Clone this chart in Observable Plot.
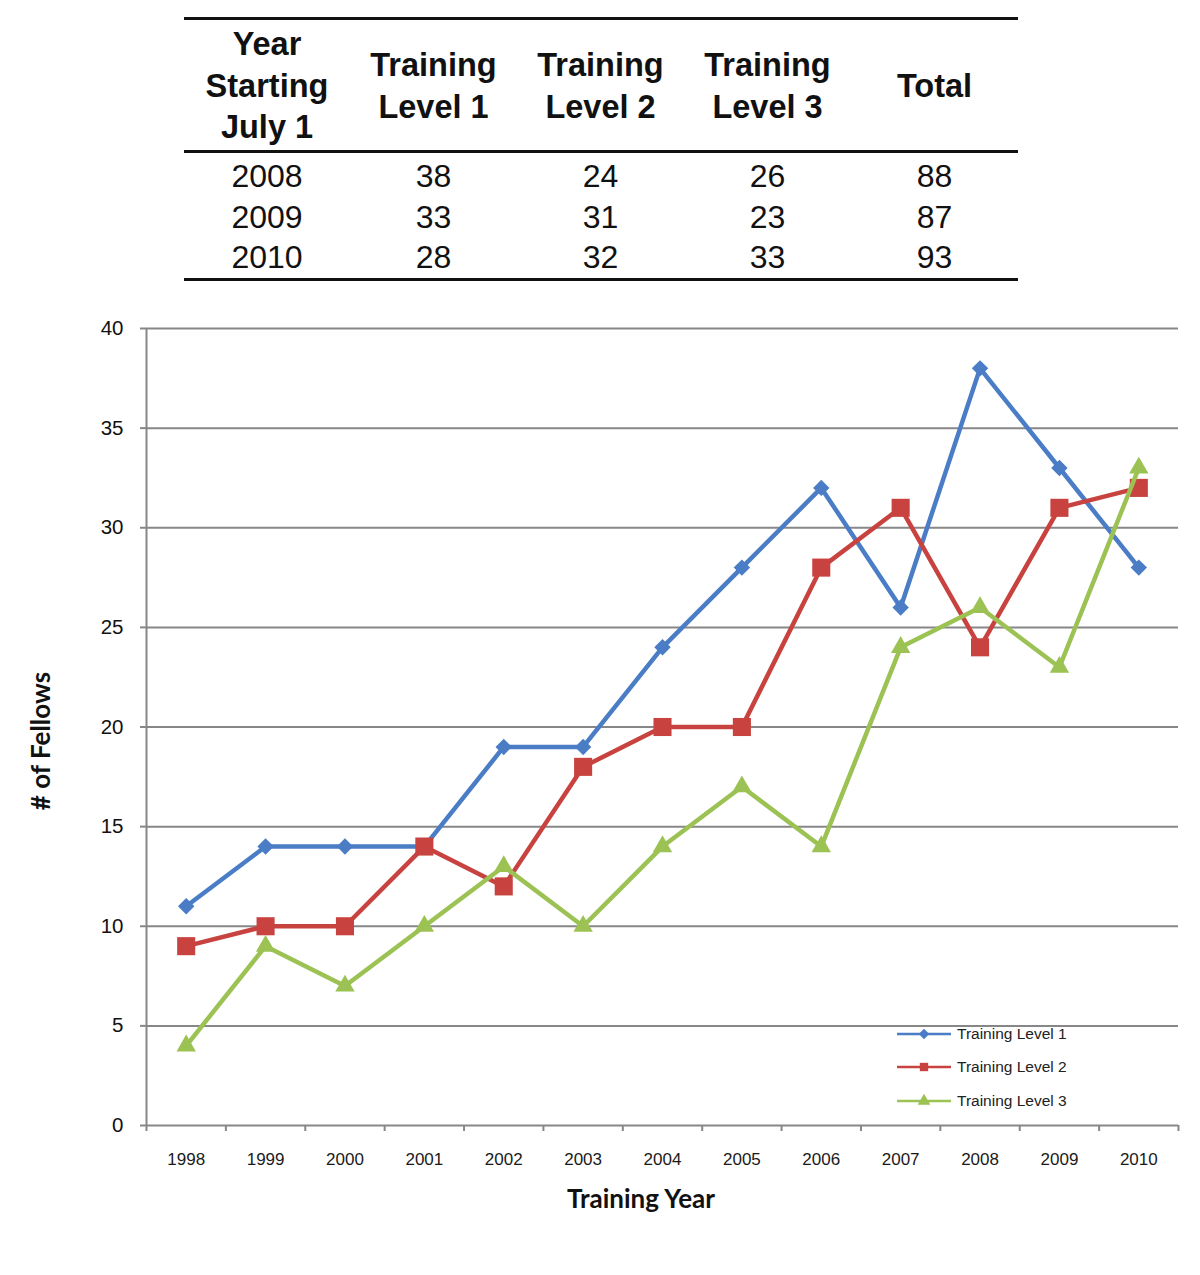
<!DOCTYPE html>
<html>
<head>
<meta charset="utf-8">
<script src="https://cdn.jsdelivr.net/npm/d3@7"></script>
<script src="https://cdn.jsdelivr.net/npm/@observablehq/plot@0.6"></script>
<style>
  html, body { margin: 0; padding: 0; background: #fff; }
  #page { position: relative; width: 1200px; height: 1275px; overflow: hidden; font-family: "Liberation Sans", Arial, sans-serif; }
  #tbl { position: absolute; left: 184px; top: 17px; width: 834px; border-collapse: collapse; color: #111; }
  #tbl th { font-weight: bold; font-size: 32.5px; line-height: 41.5px; height: 127px; padding: 3px 0 0 0; text-align: center; vertical-align: middle; border-top: 3px solid #111; border-bottom: 3px solid #111; }
  #tbl td { font-size: 32px; line-height: 40.5px; padding: 0; text-align: center; }
  #tbl tbody tr:first-child td { padding-top: 3px; }
  #tbl tbody tr:last-child td { border-bottom: 3px solid #111; padding-bottom: 0px; }
  #chart { position: absolute; left: 0; top: 290px; }
  .axtitle { position: absolute; font-family: Lato, "Open Sans", sans-serif; font-weight: bold; font-size: 26px; color: #111; white-space: nowrap; }
  #legend { position: absolute; left: 895px; top: 1017px; font-family: "Liberation Sans", Arial, sans-serif; font-size: 15.5px; color: #222; }
  #legend .row { display: flex; align-items: center; height: 33.5px; }
  #legend svg { margin-right: 4px; }
</style>
</head>
<body>
<div id="page">
  <table id="tbl"></table>
  <div id="chart"></div>
  <div class="axtitle" id="ytitle"># of Fellows</div>
  <div class="axtitle" id="xtitle">Training Year</div>
  <div id="legend"></div>
</div>
<script>
// ---- Data ----
const years = [1998, 1999, 2000, 2001, 2002, 2003, 2004, 2005, 2006, 2007, 2008, 2009, 2010];
const level1 = [11, 14, 14, 14, 19, 19, 24, 28, 32, 26, 38, 33, 28];
const level2 = [9, 10, 10, 14, 12, 18, 20, 20, 28, 31, 24, 31, 32];
const level3 = [4, 9, 7, 10, 13, 10, 14, 17, 14, 24, 26, 23, 33];
const seriesNames = ["Training Level 1", "Training Level 2", "Training Level 3"];
const yTicks = [0, 5, 10, 15, 20, 25, 30, 35, 40];

// Table data
const tableHeaders = ["Year<br>Starting<br>July 1", "Training<br>Level 1", "Training<br>Level 2", "Training<br>Level 3", "Total"];
const tableYears = [2008, 2009, 2010];
const tableL1 = [38, 33, 28];
const tableL2 = [24, 31, 32];
const tableL3 = [26, 23, 33];
const tableTotal = [88, 87, 93];

// ---- Styles ----
const seriesColors = ["#4a7dc6", "#c8433f", "#9bc253"];
const seriesSymbols = ["diamond2", "square", "triangle"];
const seriesR = [7.4, 10.2, 7.2];
const gridColor = "#878787";

// ---- Table ----
const tbl = document.getElementById("tbl");
let html = "<thead><tr>" + tableHeaders.map(h => `<th>${h}</th>`).join("") + "</tr></thead><tbody>";
tableYears.forEach((y, i) => {
  html += `<tr><td>${y}</td><td>${tableL1[i]}</td><td>${tableL2[i]}</td><td>${tableL3[i]}</td><td>${tableTotal[i]}</td></tr>`;
});
html += "</tbody>";
tbl.innerHTML = html;
tbl.querySelectorAll("th").forEach((th, i) => { th.style.width = (i === 0 ? 166 : 167) + "px"; });

// ---- Chart ----
const seriesValues = [level1, level2, level3];
const series = seriesNames.map((name, s) => years.map((yr, i) => ({ year: yr, value: seriesValues[s][i], series: name })));
const x0 = years[0] - 0.5, x1 = years[years.length - 1] + 0.5;
const boundaries = d3.range(x0, x1 + 0.01, 1);

const marks = [
  Plot.gridY(yTicks.slice(1), { stroke: gridColor, strokeOpacity: 1, strokeWidth: 2 }),
  Plot.axisY(yTicks, { tickSize: 6, tickPadding: 17, fontSize: 20.5, stroke: gridColor, strokeWidth: 2, fill: "#111", label: null }),
  Plot.axisX(years, { tickSize: 0, tickPadding: 27, fontSize: 17, fill: "#1a1a1a", tickFormat: d => String(d), label: null }),
  Plot.axisX(boundaries, { tickSize: 6, stroke: gridColor, strokeWidth: 2, tickFormat: () => "", label: null }),
  Plot.ruleY([0], { stroke: gridColor, strokeWidth: 2 }),
  Plot.ruleX([x0], { stroke: gridColor, strokeWidth: 2 })
];
series.forEach((data, s) => {
  marks.push(Plot.line(data, { x: "year", y: "value", stroke: seriesColors[s], strokeWidth: 4.5 }));
  marks.push(Plot.dot(data, { x: "year", y: "value", symbol: seriesSymbols[s], r: seriesR[s], fill: seriesColors[s], stroke: "none" }));
});

const chart = Plot.plot({
  width: 1200,
  height: 960,
  marginTop: 38,
  marginLeft: 146,
  marginRight: 22,
  marginBottom: 125,
  x: { type: "linear", domain: [x0, x1] },
  y: { domain: [0, 40] },
  style: { fontFamily: "'Liberation Sans', Arial, sans-serif", background: "#fff", overflow: "visible" },
  marks
});
document.getElementById("chart").appendChild(chart);

// ---- Axis titles ----
const yt = document.getElementById("ytitle");
yt.style.left = "40px"; yt.style.top = "741px";
yt.style.transform = "translate(-50%, -50%) rotate(-90deg)";
const xt = document.getElementById("xtitle");
xt.style.left = "641px"; xt.style.top = "1198px";
xt.style.transform = "translate(-50%, -50%)";

// ---- Legend ----
const legend = d3.select("#legend");
seriesNames.forEach((name, s) => {
  const row = legend.append("div").attr("class", "row");
  const svg = row.append("svg").attr("width", 58).attr("height", 20);
  svg.append("line").attr("x1", 2).attr("x2", 56).attr("y1", 10).attr("y2", 10).attr("stroke", seriesColors[s]).attr("stroke-width", 2.5);
  const sym = { diamond2: d3.symbolDiamond2, square: d3.symbolSquare, triangle: d3.symbolTriangle }[seriesSymbols[s]];
  svg.append("path").attr("d", d3.symbol(sym, 70)()).attr("transform", "translate(29,10)").attr("fill", seriesColors[s]);
  row.append("span").text(name);
});
</script>
</body>
</html>
